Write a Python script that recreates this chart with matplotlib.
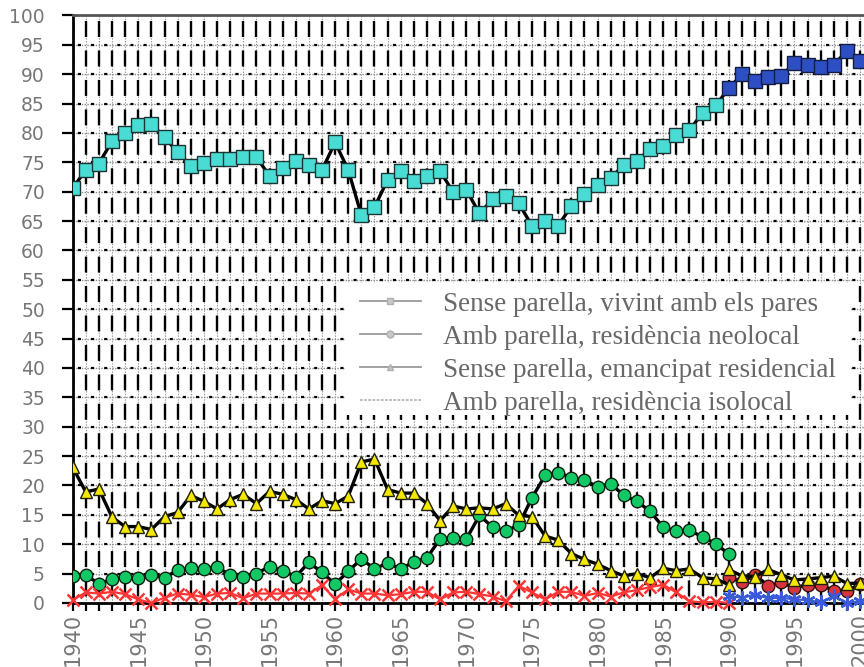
import numpy as np
import matplotlib
matplotlib.use("Agg")
import matplotlib.pyplot as plt
from matplotlib.lines import Line2D
from matplotlib.patches import Rectangle

plt.rcParams['lines.scale_dashes'] = False

# --- data ---
years_a = np.arange(1940, 1991)          # 1940-1990
years_b = np.arange(1990, 2001)          # 1990-2000

pares_a = [70.6, 73.7, 74.8, 78.6, 80.0, 81.3, 81.5, 79.3, 76.7, 74.4,
           74.9, 75.6, 75.6, 75.9, 75.9, 72.7, 74.0, 75.3, 74.6, 73.7,
           78.4, 73.7, 66.0, 67.4, 72.0, 73.5, 71.8, 72.7, 73.5, 69.9,
           70.3, 66.3, 68.7, 69.3, 68.0, 64.2, 65.1, 64.2, 67.6, 69.6,
           71.1, 72.3, 74.6, 75.3, 77.2, 77.7, 79.7, 80.5, 83.4, 84.7]   # 1940-1989
pares_b = [87.6, 90.0, 88.8, 89.5, 89.7, 91.9, 91.6, 91.2, 91.6, 94.0, 92.3]

neolocal_a = [4.6, 4.7, 3.3, 4.0, 4.4, 4.2, 4.7, 4.3, 5.6, 5.9,
              5.8, 6.2, 4.7, 4.4, 5.0, 6.2, 5.5, 4.5, 6.9, 5.2,
              3.2, 5.4, 7.5, 5.8, 6.8, 5.8, 7.0, 7.7, 10.9, 11.1,
              10.9, 14.9, 12.9, 12.2, 13.3, 17.9, 21.7, 22.2, 21.3, 20.9,
              19.8, 20.3, 18.3, 17.3, 15.6, 12.9, 12.2, 12.4, 11.2, 10.1, 8.3]
neolocal_b = [4.5, 3.5, 4.8, 2.9, 3.5, 2.6, 3.1, 3.1, 2.1, 2.1, 3.2]

emancipat_a = [23.1, 18.9, 19.4, 14.6, 13.0, 13.0, 12.5, 14.7, 15.4, 18.3,
               17.3, 16.0, 17.6, 18.5, 16.9, 19.0, 18.5, 17.6, 16.0, 17.4,
               16.9, 18.2, 24.0, 24.5, 19.3, 18.7, 18.7, 16.9, 14.0, 16.5,
               16.0, 16.2, 16.0, 16.9, 14.9, 14.7, 11.4, 10.7, 8.4, 7.4,
               6.6, 5.5, 4.6, 5.0, 4.3, 5.9, 5.5, 5.8, 4.3, 4.1, 3.1]
emancipat_b = [5.7, 4.6, 4.5, 5.7, 4.8, 3.9, 4.1, 4.3, 4.6, 3.3, 3.4]

isolocal_a = [0.5, 1.8, 1.6, 1.9, 1.5, 0.6, 0.0, 0.9, 1.6, 1.4,
              1.0, 1.6, 1.7, 0.8, 1.6, 1.6, 1.6, 1.7, 1.6, 3.0,
              0.7, 2.3, 1.6, 1.6, 1.3, 1.5, 1.9, 1.9, 0.6, 1.8,
              1.9, 1.5, 1.1, 0.3, 2.9, 1.8, 0.6, 1.9, 1.9, 1.2,
              1.7, 1.1, 1.8, 2.2, 2.7, 3.1, 1.8, 0.3, 0.1, 0.2, 0.0]
isolocal_b = [1.2, 0.9, 1.4, 0.8, 0.9, 0.6, 0.5, 0.1, 1.2, 0.0, 0.3]

labels = ["Sense parella, vivint amb els pares",
          "Amb parella, residència neolocal",
          "Sense parella, emancipat residencial",
          "Amb parella, residència isolocal"]

fig = plt.figure(figsize=(8.64, 6.67), dpi=100)
ax = fig.add_axes([0.0841, 0.0960, 0.9159, 0.8808])
ax.set_xlim(1940, 2000.3)
ax.set_ylim(0, 100)

# grid: vertical per year, horizontal per 5
for yr in np.arange(1940, 2001):
    ax.axvline(yr, color='#9a9a9a', lw=0.8, ls=(0, (1, 1)), zorder=1)
    ax.axvline(yr, color='black', lw=1.7, ls=(16.5, (11.5, 9.7)), zorder=1.2)
for v in np.arange(5, 100, 5):
    ax.axhline(v, color='#8a8a8a', lw=1.0, ls=(0, (1, 1)), zorder=1)
    ax.axhline(v, color='black', lw=1.6, ls=(5.9, (2.2, 7.25)), zorder=1.2)

# legend background
ax.add_patch(Rectangle((0.344, 0.32), 0.638, 0.225, transform=ax.transAxes,
                       fc='white', ec='none', zorder=2))

lk = dict(color='black', lw=2.4, zorder=3)
# vivint amb els pares
ax.plot(np.r_[years_a[:-1], years_b], np.r_[pares_a, pares_b], **lk)
ax.plot(years_a[:-1], pares_a, ls='none', marker='s', ms=9.5, mfc='#48DCD4', mec='#1c3434', mew=1, zorder=4)
ax.plot(years_b, pares_b, ls='none', marker='s', ms=9.5, mfc='#2E4FC4', mec='#141c40', mew=1, zorder=4)
# neolocal
ax.plot(years_a, neolocal_a, marker='o', ms=9, mfc='#12C865', mec='#102010', mew=1, **lk)
ax.plot(years_b, neolocal_b, marker='o', ms=9, mfc='#D8343F', mec='#301010', mew=1, **lk)
# emancipat
ax.plot(years_a, emancipat_a, marker='^', ms=8.5, mfc='#F5E800', mec='#202010', mew=1, **lk)
ax.plot(years_b, emancipat_b, marker='^', ms=8.5, mfc='#F5E800', mec='#202010', mew=1, zorder=4, color='black', lw=2.4)
# isolocal
ax.plot(years_a, isolocal_a, marker='x', ms=8, mew=1.8, color='#FF3535', lw=1.6, zorder=4, clip_on=False)
ax.plot(years_b, isolocal_b, marker=(6, 2, 0), ms=10, mew=1.8, color='#3A5BD9', lw=1.6, zorder=4, clip_on=False)

# legend
hcol = '#9a9a9a'
handles = [Line2D([], [], color=hcol, lw=1.3, marker='s', ms=5, mfc='#c8c8c8', mec='#b0b0b0'),
           Line2D([], [], color=hcol, lw=1.3, marker='o', ms=5, mfc='#c8c8c8', mec='#b0b0b0'),
           Line2D([], [], color=hcol, lw=1.3, marker='^', ms=5, mfc='#c8c8c8', mec='#b0b0b0'),
           Line2D([], [], color='#b8b8b8', lw=1.3, ls=(0, (2, 1)))]
leg = ax.legend(handles, labels, loc='upper left', bbox_to_anchor=(0.363, 0.530),
                frameon=False, borderpad=0, borderaxespad=0, handlelength=2.25,
                handletextpad=0.8, labelspacing=0.3,
                prop={'family': 'Liberation Serif', 'size': 19.5})
for t in leg.get_texts():
    t.set_color('#686868')
leg.set_zorder(6)

# axes styling
ax.spines['right'].set_visible(False)
ax.spines['left'].set_linewidth(2)
ax.spines['bottom'].set_linewidth(2)
ax.spines['top'].set_linewidth(2)
ax.spines['top'].set_color('#555555')

ax.set_yticks(np.arange(0, 101, 5))
ax.set_xticks(np.arange(1940, 2001, 5))
ax.set_xticks(np.arange(1940, 2001, 1), minor=True)
ax.tick_params(axis='y', direction='out', length=8, width=1.6, pad=12,
               labelsize=13.5, labelcolor='#777777')
ax.tick_params(axis='x', which='both', direction='out', length=6, width=1.6, pad=1,
               labelsize=15, labelcolor='#777777', labelrotation=90)

fig.savefig('out.png', dpi=100)
